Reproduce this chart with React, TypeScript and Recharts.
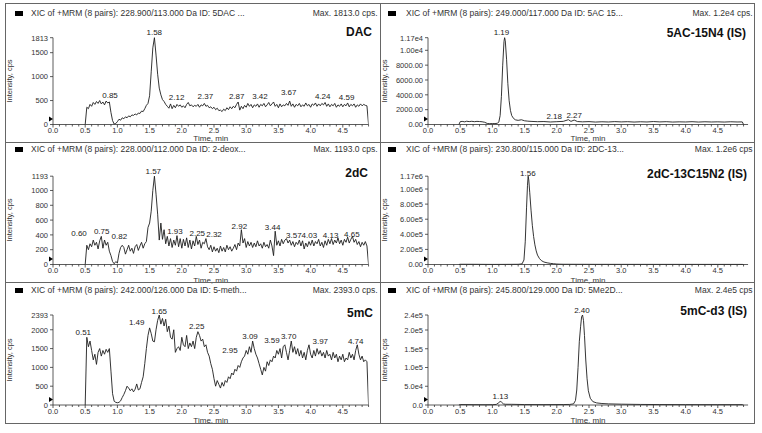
import React from "react"
import { LineChart, Line, XAxis, YAxis, ReferenceDot } from "recharts"

const FONT = "'Liberation Sans', Arial, sans-serif"

// time axis: minor tick every 0.1 min, labelled every 0.5 min
const TIME_TICKS = [
  0, 0.1, 0.2, 0.3, 0.4, 0.5, 0.6, 0.7, 0.8, 0.9, 1, 1.1, 1.2, 1.3, 1.4, 1.5, 1.6, 1.7, 1.8, 1.9,
  2, 2.1, 2.2, 2.3, 2.4, 2.5, 2.6, 2.7, 2.8, 2.9, 3, 3.1, 3.2, 3.3, 3.4, 3.5, 3.6, 3.7, 3.8, 3.9,
  4, 4.1, 4.2, 4.3, 4.4, 4.5, 4.6, 4.7, 4.8, 4.9,
]
const TIME_MAJOR = [0, 0.5, 1, 1.5, 2, 2.5, 3, 3.5, 4, 4.5]
const TIME_LABELS = ["0.0", "0.5", "1.0", "1.5", "2.0", "2.5", "3.0", "3.5", "4.0", "4.5"]

// analyte traces, read every 0.025 min starting at 0.5 min
const GRID_START = 0.5
const GRID_STEP = 0.025

const DAC_CPS = [
  0, 360, 330, 420, 380, 460, 420, 480, 440, 500,
  430, 470, 410, 490, 450, 470, 250, 80, 10, 20,
  60, 110, 90, 140, 120, 160, 140, 180, 160, 200,
  190, 220, 200, 240, 230, 280, 270, 330, 400, 440,
  600, 1100, 1600, 1813, 1450, 1050, 760, 620, 520, 480,
  420, 380, 340, 430, 330, 400, 350, 420, 380, 410,
  360, 390, 350, 420, 460, 390, 410, 370, 400, 380,
  420, 360, 410, 390, 440, 380, 400, 350, 370, 330,
  360, 310, 340, 290, 300, 270, 320, 290, 350, 310,
  370, 330, 380, 350, 420, 470, 300, 380, 330, 400,
  360, 440, 380, 420, 350, 410, 380, 430, 360, 420,
  390, 440, 370, 410, 460, 390, 430, 470, 380, 420,
  350, 430, 370, 410, 390, 440, 400, 490, 380, 430,
  360, 420, 390, 440, 370, 410, 380, 450, 390, 420,
  360, 430, 400, 450, 380, 430, 390, 440, 410, 460,
  380, 430, 370, 420, 390, 440, 360, 410, 380, 430,
  370, 420, 390, 450, 370, 420, 390, 430, 360, 410,
  380, 430, 390, 420, 400, 390, 0,
]

const DC_CPS = [
  0, 260, 200, 280, 240, 330, 260, 300, 210, 320,
  380, 220, 330, 260, 300, 180, 120, 40, 10, 40,
  20, 150, 230, 260, 230, 140, 200, 260, 180, 220,
  150, 240, 270, 190, 250, 300, 220, 280, 310, 500,
  560, 720, 1000, 1193, 950, 680, 330, 560, 340, 470,
  280, 380, 250, 350, 230, 330, 260, 390, 240, 350,
  220, 340, 250, 360, 230, 330, 210, 320, 250, 380,
  270, 330, 220, 300, 280, 350, 240, 200, 260, 170,
  240, 180, 220, 160, 250, 180, 230, 170, 260, 200,
  240, 180, 220, 270, 200, 290, 250, 470, 290, 350,
  230, 310, 250, 300, 230, 290, 240, 320, 250, 280,
  220, 300, 240, 270, 220, 330, 250, 120, 450, 260,
  320, 250, 340, 280, 330, 350, 290, 330, 260, 310,
  240, 300, 270, 330, 250, 320, 210, 290, 240, 310,
  260, 330, 250, 310, 280, 340, 250, 300, 230, 320,
  260, 340, 280, 350, 270, 330, 290, 360, 280, 330,
  260, 340, 300, 370, 290, 340, 380, 300, 340, 270,
  310, 240, 300, 260, 310, 250, 0,
]

const MC_CPS = [
  0, 1800, 1550, 1700, 1450, 1200, 1350, 1080, 1400, 1500,
  1300, 1450, 1350, 1480, 1400, 1500, 900, 300, 100, 70,
  60, 70, 110, 200, 280, 380, 500, 450, 380, 430,
  350, 420, 560, 400, 430, 600, 750, 1100, 1500, 1850,
  2050, 1900, 1700, 1680, 2000, 2250, 2393, 2150, 2300, 2100,
  2280, 1950, 2100, 1800, 1750, 2000, 1400, 1500, 1550, 1450,
  1800, 1600, 1550, 1850, 1500, 1650, 1550, 1700, 1500, 1800,
  1950, 1850, 1700, 1750, 1550, 1600, 1400, 1300, 1100, 950,
  700, 500, 650, 550, 450, 600, 500, 650, 600, 750,
  700, 850, 800, 950, 900, 1050, 1000, 1150, 1250, 1300,
  1450, 1350, 1550, 1400, 1700, 1500, 1350, 1250, 1100, 950,
  800, 1000, 900, 1150, 1050, 1200, 1150, 1300, 1250, 1450,
  1350, 1500, 1250, 1550, 1600, 1400, 1200, 1450, 1700, 1400,
  1550, 1350, 1500, 1300, 1450, 1250, 1400, 1200, 1450, 1600,
  1350, 1250, 1450, 1300, 1500, 1350, 1450, 1300, 1400, 1250,
  1450, 1300, 1350, 1200, 1400, 1250, 1350, 1150, 1300, 1200,
  1350, 1150, 1250, 1200, 1400, 1250, 1350, 1200, 1450, 1600,
  1350, 1200, 1300, 1150, 1200, 1150, 0,
]

// internal standards, explicit time / intensity pairs
const AC_IS_TIME = [
  0.48, 0.5, 0.53, 0.57, 0.6, 0.64, 0.68, 0.72, 0.76, 0.8, 0.84, 0.88, 0.92, 0.96, 1.0, 1.04, 1.08,
  1.1, 1.12, 1.14, 1.16, 1.18, 1.19, 1.2, 1.22, 1.24, 1.26, 1.28, 1.3, 1.33, 1.36, 1.4, 1.45, 1.5,
  1.55, 1.6, 1.7, 1.8, 1.9, 2.0, 2.1, 2.18, 2.22, 2.27, 2.32, 2.4, 2.5, 2.6, 2.7, 2.8, 2.9, 3.0,
  3.1, 3.2, 3.3, 3.4, 3.5, 3.6, 3.7, 3.8, 3.9, 4.0, 4.1, 4.2, 4.3, 4.4, 4.5, 4.6, 4.7, 4.8, 4.88, 4.9,
]
const AC_IS_CPS = [
  0, 380, 420, 360, 440, 390, 430, 380, 420, 400, 370, 300, 140, 110, 130, 120, 170,
  350, 1200, 3800, 8000, 11200, 11700, 11300, 8800, 5500, 3200, 1900, 1200, 800, 620, 560, 640, 500,
  450, 420, 380, 400, 340, 380, 420, 650, 420, 600, 400, 360, 390, 330, 370, 340, 390, 350,
  380, 330, 370, 340, 400, 350, 380, 330, 360, 340, 380, 330, 370, 340, 360, 330, 370, 340, 350, 0,
]

const DC_IS_TIME = [
  0.48, 0.5, 0.7, 0.9, 1.0, 1.2, 1.4, 1.46, 1.49, 1.51, 1.53, 1.545, 1.555, 1.565, 1.58, 1.6, 1.62,
  1.64, 1.66, 1.68, 1.7, 1.73, 1.76, 1.8, 1.85, 1.9, 1.95, 2.0, 2.05, 2.1, 2.3, 2.6, 3.0, 3.5, 4.0,
  4.5, 4.88, 4.9,
]
const DC_IS_CPS = [
  0, 3000, 2500, 1500, 1000, 1500, 2500, 8000, 60000, 300000, 750000, 1050000, 1170000, 1120000,
  950000, 720000, 520000, 370000, 260000, 180000, 125000, 80000, 52000, 33000, 22000, 15000, 10000,
  6000, 4000, 3000, 2500, 2000, 1800, 1500, 1500, 1300, 1200, 0,
]

const MC_IS_TIME = [
  0.48, 0.5, 0.7, 0.9, 1.0, 1.06, 1.09, 1.12, 1.14, 1.17, 1.2, 1.3, 1.5, 1.8, 2.1, 2.2, 2.26, 2.29,
  2.31, 2.33, 2.35, 2.37, 2.385, 2.4, 2.415, 2.43, 2.45, 2.47, 2.49, 2.52, 2.56, 2.62, 2.7, 2.8, 3.0,
  3.3, 3.6, 4.0, 4.5, 4.88, 4.9,
]
const MC_IS_CPS = [
  0, 1200, 900, 700, 800, 1500, 5000, 9500, 8000, 3000, 2000, 1800, 1200, 1000, 1200, 1500, 3000,
  12000, 40000, 100000, 170000, 210000, 235000, 240000, 225000, 185000, 120000, 70000, 38000, 18000,
  9000, 5500, 4000, 3000, 2200, 1500, 1200, 1000, 900, 900, 0,
]

// intensity axis ticks and their printed labels
const DAC_Y = [0, 500, 1000, 1500, 1813]
const DAC_Y_LABELS = ["0", "500", "1000", "1500", "1813"]
const AC_IS_Y = [0, 2000, 4000, 6000, 8000, 10000, 11700]
const AC_IS_Y_LABELS = ["0.00", "2000.00", "4000.00", "6000.00", "8000.00", "1.00e4", "1.17e4"]
const DC_Y = [0, 200, 400, 600, 800, 1000, 1193]
const DC_Y_LABELS = ["0", "200", "400", "600", "800", "1000", "1193"]
const DC_IS_Y = [0, 200000, 400000, 600000, 800000, 1000000, 1170000]
const DC_IS_Y_LABELS = ["0.00", "2.00e5", "4.00e5", "6.00e5", "8.00e5", "1.00e6", "1.17e6"]
const MC_Y = [0, 500, 1000, 1500, 2000, 2393]
const MC_Y_LABELS = ["0", "500", "1000", "1500", "2000", "2393"]
const MC_IS_Y = [0, 50000, 100000, 150000, 200000, 240000]
const MC_IS_Y_LABELS = ["0.0", "5.0e4", "1.0e5", "1.5e5", "2.0e5", "2.4e5"]

// peak annotations: label text, time and intensity where the label sits
const DAC_PEAKS = ["1.58", "0.85", "2.12", "2.37", "2.87", "3.42", "3.67", "4.24", "4.59"]
const DAC_PEAK_T = [1.573, 0.885, 1.92, 2.365, 2.852, 3.214, 3.66, 4.188, 4.56]
const DAC_PEAK_V = [1936, 622, 581, 601, 601, 601, 671, 601, 569]

const AC_IS_PEAKS = ["1.19", "2.18", "2.27"]
const AC_IS_PEAK_T = [1.14, 1.96, 2.27]
const AC_IS_PEAK_V = [12455, 1153, 1232]

const DC_PEAKS = ["1.57", "0.60", "0.75", "0.82", "1.93", "2.25", "2.32", "2.92", "3.44", "3.57", "4.03", "4.13", "4.65"]
const DC_PEAK_T = [1.557, 0.404, 0.756, 1.03, 1.894, 2.24, 2.5, 2.893, 3.41, 3.74, 3.98, 4.31, 4.64]
const DC_PEAK_V = [1257, 428, 446, 383, 459, 428, 415, 514, 504, 392, 392, 392, 415]

const DC_IS_PEAKS = ["1.56"]
const DC_IS_PEAK_T = [1.55]
const DC_IS_PEAK_V = [1219000]

const MC_PEAKS = ["0.51", "1.49", "1.65", "2.25", "2.95", "3.09", "3.59", "3.70", "3.97", "4.74"]
const MC_PEAK_T = [0.47, 1.3, 1.65, 2.231, 2.748, 3.059, 3.4, 3.66, 4.15, 4.7]
const MC_PEAK_V = [1933, 2218, 2500, 2112, 1463, 1835, 1729, 1846, 1713, 1713]

const MC_IS_PEAKS = ["1.13", "2.40"]
const MC_IS_PEAK_T = [1.123, 2.39]
const MC_IS_PEAK_V = [25240, 253460]

// layout
const PX_PER_MIN = 64.4
const COL_LEFT = [5, 380]
const COL_W = 375
const Y_AXIS_X = [53, 428]
const X_MAX = [4.9, 4.97]
const ROW_TOP = [3, 140.5, 282]
const HEADER_Y = [13, 149, 290]
const PLOT_TOP = [37.7, 175.7, 315]
const PLOT_BOTTOM = [124.5, 264, 405]
const TIME_DY = [14, 16, 15]

interface Pt { t: number; v: number }
interface Peak { text: string; t: number; v: number }

const gridRows = (vals: number[]): Pt[] =>
  vals.map((v, i) => ({ t: +(GRID_START + i * GRID_STEP).toFixed(3), v }))
const pairRows = (ts: number[], vals: number[]): Pt[] => ts.map((t, i) => ({ t, v: vals[i] }))
const peakRows = (texts: string[], ts: number[], vs: number[]): Peak[] =>
  texts.map((text, i) => ({ text, t: ts[i], v: vs[i] }))

interface PanelCfg {
  row: number
  col: number
  header: string
  maxText: string
  title: string
  titleRight: number
  titleY: number
  yTicks: number[]
  yLabels: string[]
  data: Pt[]
  peaks: Peak[]
}

const PANELS: PanelCfg[] = [
  {
    row: 0, col: 0,
    header: "XIC of +MRM (8 pairs): 228.900/113.000 Da ID: 5DAC ...",
    maxText: "Max. 1813.0 cps.",
    title: "DAC", titleRight: 372, titleY: 32,
    yTicks: DAC_Y, yLabels: DAC_Y_LABELS,
    data: gridRows(DAC_CPS),
    peaks: peakRows(DAC_PEAKS, DAC_PEAK_T, DAC_PEAK_V),
  },
  {
    row: 0, col: 1,
    header: "XIC of +MRM (8 pairs): 249.000/117.000 Da ID: 5AC 15...",
    maxText: "Max. 1.2e4 cps.",
    title: "5AC-15N4 (IS)", titleRight: 746, titleY: 33,
    yTicks: AC_IS_Y, yLabels: AC_IS_Y_LABELS,
    data: pairRows(AC_IS_TIME, AC_IS_CPS),
    peaks: peakRows(AC_IS_PEAKS, AC_IS_PEAK_T, AC_IS_PEAK_V),
  },
  {
    row: 1, col: 0,
    header: "XIC of +MRM (8 pairs): 228.000/112.000 Da ID: 2-deox...",
    maxText: "Max. 1193.0 cps.",
    title: "2dC", titleRight: 368, titleY: 173,
    yTicks: DC_Y, yLabels: DC_Y_LABELS,
    data: gridRows(DC_CPS),
    peaks: peakRows(DC_PEAKS, DC_PEAK_T, DC_PEAK_V),
  },
  {
    row: 1, col: 1,
    header: "XIC of +MRM (8 pairs): 230.800/115.000 Da ID: 2DC-13...",
    maxText: "Max. 1.2e6 cps",
    title: "2dC-13C15N2 (IS)", titleRight: 747, titleY: 174,
    yTicks: DC_IS_Y, yLabels: DC_IS_Y_LABELS,
    data: pairRows(DC_IS_TIME, DC_IS_CPS),
    peaks: peakRows(DC_IS_PEAKS, DC_IS_PEAK_T, DC_IS_PEAK_V),
  },
  {
    row: 2, col: 0,
    header: "XIC of +MRM (8 pairs): 242.000/126.000 Da ID: 5-meth...",
    maxText: "Max. 2393.0 cps.",
    title: "5mC", titleRight: 373, titleY: 313,
    yTicks: MC_Y, yLabels: MC_Y_LABELS,
    data: gridRows(MC_CPS),
    peaks: peakRows(MC_PEAKS, MC_PEAK_T, MC_PEAK_V),
  },
  {
    row: 2, col: 1,
    header: "XIC of +MRM (8 pairs): 245.800/129.000 Da ID: 5Me2D...",
    maxText: "Max. 2.4e5 cps",
    title: "5mC-d3 (IS)", titleRight: 747, titleY: 311,
    yTicks: MC_IS_Y, yLabels: MC_IS_Y_LABELS,
    data: pairRows(MC_IS_TIME, MC_IS_CPS),
    peaks: peakRows(MC_IS_PEAKS, MC_IS_PEAK_T, MC_IS_PEAK_V),
  },
]

function TimeTick(props: any) {
  const { x, y, payload } = props
  const idx = TIME_MAJOR.findIndex((m) => Math.abs(m - payload.value) < 1e-6)
  const major = idx >= 0
  return (
    <g>
      <line x1={x} x2={x} y1={y} y2={y + (major ? 3 : 2)} stroke="#333" strokeWidth={0.8} />
      {major && (
        <text x={x} y={y + 8.5} textAnchor="middle" fontSize={7.5} fill="#333" fontFamily={FONT}>
          {TIME_LABELS[idx]}
        </text>
      )}
    </g>
  )
}

function makeYTick(ticks: number[], labels: string[]) {
  return (props: any) => {
    const { x, y, payload } = props
    const idx = ticks.indexOf(payload.value)
    return (
      <g>
        <line x1={x - 3} x2={x} y1={y} y2={y} stroke="#333" strokeWidth={0.8} />
        <text x={x - 5} y={y + 2.8} textAnchor="end" fontSize={7.5} fill="#333" fontFamily={FONT}>
          {labels[idx]}
        </text>
      </g>
    )
  }
}

function Panel({ cfg }: { cfg: PanelCfg }) {
  const colLeft = COL_LEFT[cfg.col]
  const rowTop = ROW_TOP[cfg.row]
  const plotTop = PLOT_TOP[cfg.row]
  const plotBottom = PLOT_BOTTOM[cfg.row]
  const axisX = Y_AXIS_X[cfg.col]
  const xMax = X_MAX[cfg.col]
  const plotW = xMax * PX_PER_MIN
  const yAxisW = 30
  const inner = axisX - colLeft
  const xAxisH = 11
  const height = plotBottom - rowTop + xAxisH
  const margin = { top: plotTop - rowTop, left: inner - yAxisW, right: COL_W - inner - plotW, bottom: 0 }
  const yMax = cfg.yTicks[cfg.yTicks.length - 1]
  const headerY = HEADER_Y[cfg.row]
  const midY = (plotTop + plotBottom) / 2
  const midX = axisX + plotW / 2
  const text = { position: "absolute" as const, fontFamily: FONT, whiteSpace: "nowrap" as const }

  return (
    <>
      <div style={{ position: "absolute", left: colLeft, top: rowTop }}>
        <LineChart width={COL_W} height={height} data={cfg.data} margin={margin} style={{ overflow: "visible" }}>
          <XAxis
            dataKey="t"
            type="number"
            domain={[0, xMax]}
            allowDataOverflow
            ticks={TIME_TICKS}
            interval={0}
            tickSize={0}
            tickMargin={0}
            tickLine={false}
            height={xAxisH}
            axisLine={{ stroke: "#333", strokeWidth: 0.8 }}
            tick={TimeTick}
          />
          <YAxis
            type="number"
            domain={[0, yMax]}
            ticks={cfg.yTicks}
            interval={0}
            width={yAxisW}
            tickSize={0}
            tickMargin={0}
            tickLine={false}
            axisLine={{ stroke: "#333", strokeWidth: 0.8 }}
            tick={makeYTick(cfg.yTicks, cfg.yLabels)}
          />
          <Line
            dataKey="v"
            type="linear"
            stroke="#1e1e1e"
            strokeWidth={0.9}
            dot={false}
            isAnimationActive={false}
          />
          <ReferenceDot
            x={0}
            y={0}
            r={0}
            ifOverflow="visible"
            shape={(s: any) => (
              <polygon
                points={`${s.cx - 4},${s.cy - 8} ${s.cx},${s.cy - 5.5} ${s.cx - 4},${s.cy - 3}`}
                fill="#000"
              />
            )}
          />
          {cfg.peaks.map((p, i) => (
            <ReferenceDot
              key={i}
              x={p.t}
              y={p.v}
              r={0}
              ifOverflow="visible"
              shape={(s: any) => (
                <text x={s.cx} y={s.cy + 3} textAnchor="middle" fontSize={8} fill="#222" fontFamily={FONT}>
                  {p.text}
                </text>
              )}
            />
          ))}
        </LineChart>
      </div>
      <div style={{ position: "absolute", left: colLeft + (cfg.col ? 8 : 10), top: headerY - 2.5, width: 8, height: 5, background: "#000" }} />
      <div style={{ ...text, left: colLeft + 26, top: headerY - 5, fontSize: 8.5, lineHeight: "10px", color: "#333" }}>
        {cfg.header}
      </div>
      <div style={{ ...text, right: 762 - (colLeft + COL_W - 2.5), top: headerY - 5, fontSize: 8.5, lineHeight: "10px", color: "#333" }}>
        {cfg.maxText}
      </div>
      <div style={{ ...text, right: 762 - cfg.titleRight, top: cfg.titleY - 7, fontSize: 12, lineHeight: "14px", fontWeight: "bold", color: "#111" }}>
        {cfg.title}
      </div>
      <div
        style={{
          ...text, left: colLeft + 5 - 40, top: midY - 5, width: 80, textAlign: "center",
          fontSize: 7.5, lineHeight: "10px", color: "#333", transform: "rotate(-90deg)",
        }}
      >
        Intensity, cps
      </div>
      <div
        style={{
          ...text, left: midX - 30, top: plotBottom + TIME_DY[cfg.row] - 3.5, width: 60, textAlign: "center",
          fontSize: 8, lineHeight: "7px", color: "#333",
        }}
      >
        Time, min
      </div>
    </>
  )
}

export default function App() {
  const rule = { position: "absolute" as const, background: "#666" }
  return (
    <div style={{ position: "absolute", left: 0, top: 0, width: 762, height: 433, background: "#fff", overflow: "hidden" }}>
      {PANELS.map((cfg, i) => (
        <Panel key={i} cfg={cfg} />
      ))}
      <div style={{ position: "absolute", left: 5, top: 3, width: 750, height: 421, border: "1px solid #666", boxSizing: "border-box" }} />
      <div style={{ ...rule, left: 380, top: 3, width: 1, height: 421 }} />
      <div style={{ ...rule, left: 5, top: 142, width: 750, height: 1 }} />
      <div style={{ ...rule, left: 5, top: 282, width: 750, height: 1 }} />
    </div>
  )
}
